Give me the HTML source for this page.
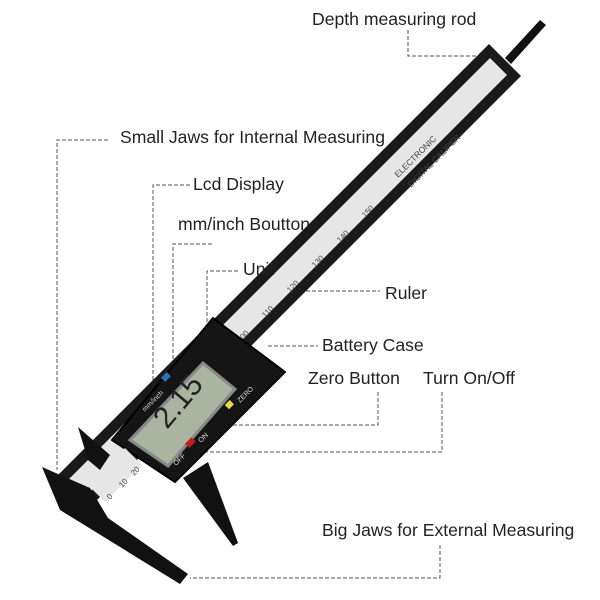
<!DOCTYPE html>
<html><head><style>
html,body{margin:0;padding:0;background:#fff;}
svg{display:block;}
text{font-family:"Liberation Sans",Arial,sans-serif;font-size:17.6px;fill:#222;}
</style></head><body>
<svg width="600" height="600" viewBox="0 0 600 600">
<g stroke="#555" stroke-width="1" stroke-dasharray="4,2" fill="none">
<polyline points="408,30 408,56 488,56"/>
<polyline points="108,140 57,140 57,470"/>
<polyline points="190,185 153,185 153,420"/>
<polyline points="212,244 173,244 173,400"/>
<polyline points="238,271 207,271 207,365"/>
<polyline points="300,291 380,291"/>
<polyline points="268,346 318,346"/>
<polyline points="378,392 378,425 228,425"/>
<polyline points="442,392 442,452 205,452"/>
<polyline points="440,545 440,578 190,578"/>
</g>
<!-- depth rod -->
<polygon points="505,58 540,20 546,25 511,64" fill="#111"/>
<!-- beam -->
<polygon points="489,44 521,76 86,511 54,479" fill="#1a1a1a"/>
<polygon points="490,58 507,75 84,498 67,481" fill="#e6e6e6"/>
<text transform="translate(398,178) rotate(-45)" style="font-size:8.5px;fill:#444">ELECTRONIC</text>
<text transform="translate(411,188) rotate(-45)" style="font-size:8.5px;fill:#444">DIGITAL CALIPER</text>
<text transform="translate(365,218) rotate(-45)" style="font-size:8px;fill:#444">150</text>
<text transform="translate(340,243) rotate(-45)" style="font-size:8px;fill:#444">140</text>
<text transform="translate(315,268) rotate(-45)" style="font-size:8px;fill:#444">130</text>
<text transform="translate(290,293) rotate(-45)" style="font-size:8px;fill:#444">120</text>
<text transform="translate(265,318) rotate(-45)" style="font-size:8px;fill:#444">110</text>
<text transform="translate(240,343) rotate(-45)" style="font-size:8px;fill:#444">100</text>
<!-- fixed big jaw -->
<polygon points="42,467 90,488 108,518 188,574 180,584 60,510" fill="#111"/>
<!-- small fixed jaw -->
<polygon points="78,427 110,455 100,470 88,460" fill="#111"/>
<!-- moving big jaw -->
<polygon points="183,478 208,462 238,543 233,546" fill="#111"/>
<!-- slider head -->
<polygon points="213,318 285,372 175,482 112,440" fill="#151515" stroke="#000" stroke-width="2" stroke-linejoin="round"/>
<polygon points="203,363 235,389 168,466 130,440" fill="#aab4a0" stroke="#888" stroke-width="3"/>
<text transform="translate(167,430) rotate(-50)" style="font-size:30px;fill:#222">2.15</text>
<rect x="226" y="402" width="7" height="6" fill="#e6d84a" transform="rotate(-45 229 405)"/>
<rect x="186" y="440" width="9" height="6" fill="#c21d1d" transform="rotate(-45 190 443)"/>
<rect x="162" y="374" width="8" height="6" fill="#2a6fb8" transform="rotate(-45 166 377)"/>
<text transform="translate(240,403) rotate(-45)" style="font-size:7px;fill:#ddd">ZERO</text>
<text transform="translate(201,443) rotate(-45)" style="font-size:7px;fill:#ddd">ON</text>
<text transform="translate(176,466) rotate(-45)" style="font-size:7px;fill:#ddd">OFF</text>
<text transform="translate(145,412) rotate(-45)" style="font-size:7px;fill:#ddd">mm/inch</text>
<!-- ruler end near fixed jaw -->
<polygon points="88,485 125,448 142,465 105,502" fill="#e6e6e6"/>
<text transform="translate(110,500) rotate(-45)" style="font-size:8px;fill:#444">0</text>
<text transform="translate(122,488) rotate(-45)" style="font-size:8px;fill:#444">10</text>
<text transform="translate(134,476) rotate(-45)" style="font-size:8px;fill:#444">20</text>
<!-- labels -->
<text x="312" y="25">Depth measuring rod</text>
<text x="120" y="143">Small Jaws for Internal Measuring</text>
<text x="193" y="190">Lcd Display</text>
<text x="178" y="230">mm/inch Boutton</text>
<text x="243" y="275">Unit</text>
<text x="385" y="299">Ruler</text>
<text x="322" y="351">Battery Case</text>
<text x="308" y="384">Zero Button</text>
<text x="423" y="384">Turn On/Off</text>
<text x="322" y="536">Big Jaws for External Measuring</text>
</svg>
</body></html>
